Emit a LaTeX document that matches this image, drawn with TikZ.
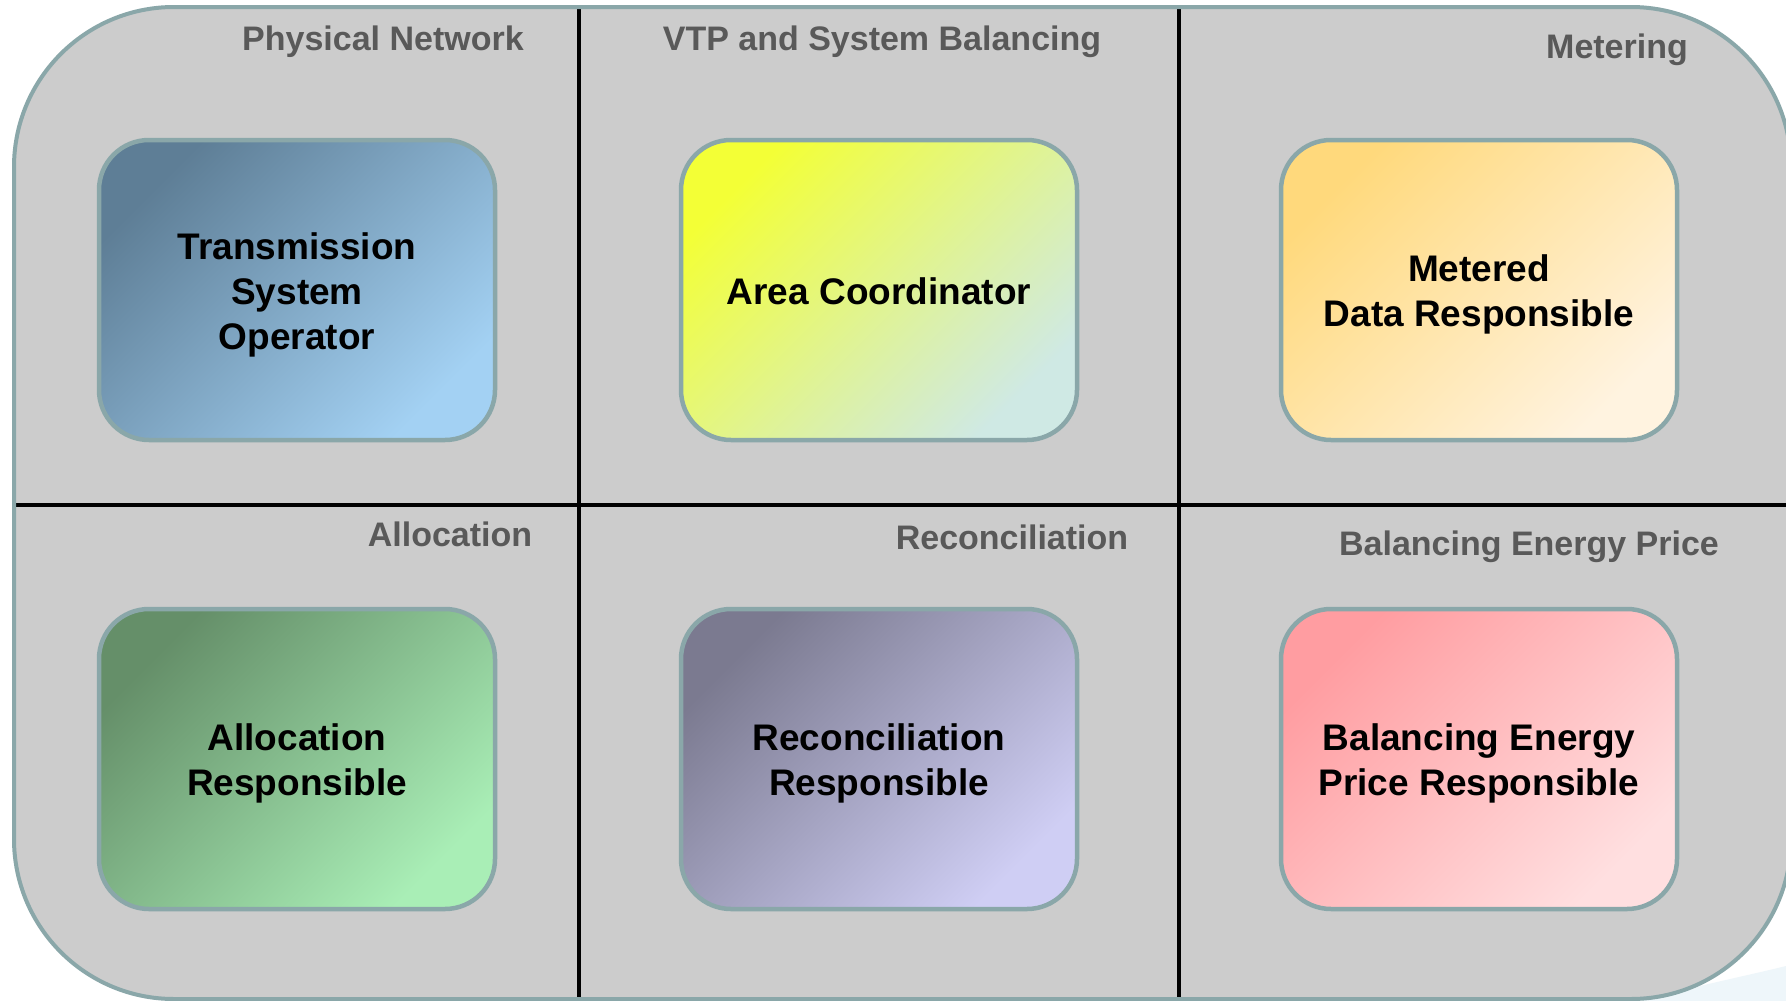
\documentclass[tikz,border=0pt]{standalone}
\usepackage{fontspec}
\setmainfont{Liberation Sans}
\definecolor{frame}{HTML}{8AA7A9}
\definecolor{panelgray}{HTML}{CCCCCC}
\definecolor{headgray}{HTML}{595959}
\definecolor{swoosh}{HTML}{EEF6FA}
\definecolor{tsoA}{HTML}{5E7E96}
\definecolor{tsoB}{HTML}{A3D1F3}
\definecolor{acA}{HTML}{F3FF36}
\definecolor{acB}{HTML}{CFE9E4}
\definecolor{mdA}{HTML}{FFD97C}
\definecolor{mdB}{HTML}{FFF3E0}
\definecolor{alA}{HTML}{658F69}
\definecolor{alB}{HTML}{A9EEB6}
\definecolor{reA}{HTML}{7B7A90}
\definecolor{reB}{HTML}{CFCEF4}
\definecolor{bpA}{HTML}{FF9DA1}
\definecolor{bpB}{HTML}{FFDFE0}
\begin{document}
\begin{tikzpicture}[x=1pt,y=-1pt,
  panel/.style={draw=frame, line width=4pt},
  divider/.style={line width=4pt, draw=black},
  header/.style={font=\fontsize{34}{40}\selectfont\bfseries, text=headgray, anchor=base, inner sep=0pt},
  rolebox/.style 2 args={rectangle, rounded corners=50pt, draw=frame, line width=4.5pt,
    minimum width=396pt, minimum height=300pt,
    top color=#1, bottom color=#2, shading angle=45},
  roletext/.style={align=center, inner sep=0pt,
    font=\fontsize{37}{45}\selectfont\bfseries, text=black},
]
\useasboundingbox (0,0) rectangle (1786,1001);
\clip (0,0) rectangle (1786,1001);
\fill[white] (0,0) rectangle (1786,1001);
\fill[swoosh] (1640,1001) .. controls (1700,985) and (1750,975) .. (1786,966) -- (1786,1001) -- cycle;
% main panel
\fill[panelgray, rounded corners=160pt] (14,7) rectangle (1791,999);
\draw[divider] (579,7) -- (579,999);
\draw[divider] (1179,7) -- (1179,999);
\draw[divider] (14,505) -- (1791,505);
\draw[panel, rounded corners=160pt] (14,7) rectangle (1791,999);
% headers
\node[header] (hPN) at (383,50) {Physical Network};
\node[header] (hVTP) at (882,50) {VTP and System Balancing};
\node[header] (hMet) at (1617,58) {Metering};
\node[header] (hAll) at (450,546) {Allocation};
\node[header] (hRec) at (1012,549) {Reconciliation};
\node[header] (hBEP) at (1529,555) {Balancing Energy Price};
% role boxes
\node[rolebox={tsoA}{tsoB}] (tso) at (297,290) {};
\node[rolebox={acA}{acB}] (ac) at (879,290) {};
\node[rolebox={mdA}{mdB}] (mdr) at (1479,290) {};
\node[rolebox={alA}{alB}] (alr) at (297,759) {};
\node[rolebox={reA}{reB}] (rer) at (879,759) {};
\node[rolebox={bpA}{bpB}] (bep) at (1479,759) {};
% role texts
\node[roletext] (tsoT) at ([yshift=-4.5pt]tso.center) {Transmission\\System\\Operator};
\node[roletext] (acT) at ([yshift=-1pt]ac.center) {Area Coordinator};
\node[roletext] (mdrT) at ([yshift=-4.5pt]mdr.center) {Metered\\Data Responsible};
\node[roletext] (alrT) at ([yshift=-4.5pt]alr.center) {Allocation\\Responsible};
\node[roletext] (rerT) at ([yshift=-4.5pt]rer.center) {Reconciliation\\Responsible};
\node[roletext] (bepT) at ([yshift=-4.5pt]bep.center) {Balancing Energy\\Price Responsible};
\end{tikzpicture}
\end{document}
